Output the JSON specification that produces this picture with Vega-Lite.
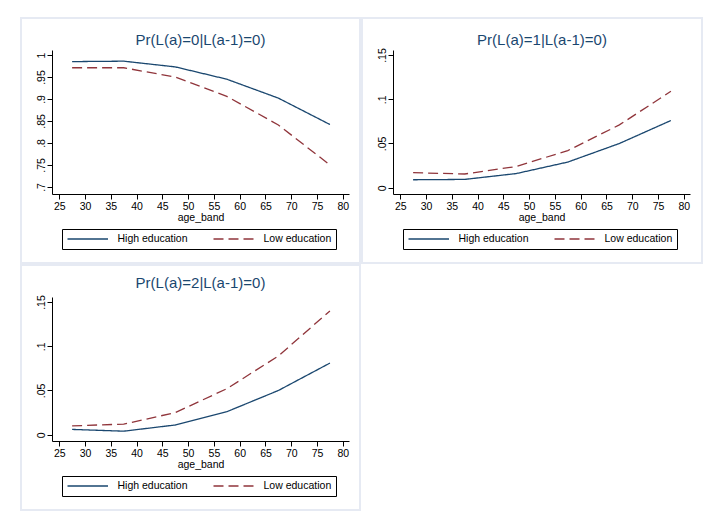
{
  "$schema": "https://vega.github.io/schema/vega-lite/v6.json",
  "background": "white",
  "padding": {"left": 20, "top": 17, "right": 0, "bottom": 0},
  "data": {"values": [
    {"panel": 0, "edu": "High education", "age": 27.5, "p": 0.985},
    {"panel": 0, "edu": "High education", "age": 37.5, "p": 0.986},
    {"panel": 0, "edu": "High education", "age": 47.5, "p": 0.973},
    {"panel": 0, "edu": "High education", "age": 57.5, "p": 0.945},
    {"panel": 0, "edu": "High education", "age": 67.5, "p": 0.902},
    {"panel": 0, "edu": "High education", "age": 77.5, "p": 0.842},
    {"panel": 0, "edu": "Low education", "age": 27.5, "p": 0.971},
    {"panel": 0, "edu": "Low education", "age": 37.5, "p": 0.971},
    {"panel": 0, "edu": "Low education", "age": 47.5, "p": 0.950},
    {"panel": 0, "edu": "Low education", "age": 57.5, "p": 0.906},
    {"panel": 0, "edu": "Low education", "age": 67.5, "p": 0.841},
    {"panel": 0, "edu": "Low education", "age": 77.5, "p": 0.750},
    {"panel": 1, "edu": "High education", "age": 27.5, "p": 0.009},
    {"panel": 1, "edu": "High education", "age": 37.5, "p": 0.0094},
    {"panel": 1, "edu": "High education", "age": 47.5, "p": 0.016},
    {"panel": 1, "edu": "High education", "age": 57.5, "p": 0.029},
    {"panel": 1, "edu": "High education", "age": 67.5, "p": 0.050},
    {"panel": 1, "edu": "High education", "age": 77.5, "p": 0.076},
    {"panel": 1, "edu": "Low education", "age": 27.5, "p": 0.017},
    {"panel": 1, "edu": "Low education", "age": 37.5, "p": 0.0155},
    {"panel": 1, "edu": "Low education", "age": 47.5, "p": 0.024},
    {"panel": 1, "edu": "Low education", "age": 57.5, "p": 0.042},
    {"panel": 1, "edu": "Low education", "age": 67.5, "p": 0.071},
    {"panel": 1, "edu": "Low education", "age": 77.5, "p": 0.109},
    {"panel": 2, "edu": "High education", "age": 27.5, "p": 0.006},
    {"panel": 2, "edu": "High education", "age": 37.5, "p": 0.004},
    {"panel": 2, "edu": "High education", "age": 47.5, "p": 0.011},
    {"panel": 2, "edu": "High education", "age": 57.5, "p": 0.026},
    {"panel": 2, "edu": "High education", "age": 67.5, "p": 0.050},
    {"panel": 2, "edu": "High education", "age": 77.5, "p": 0.081},
    {"panel": 2, "edu": "Low education", "age": 27.5, "p": 0.010},
    {"panel": 2, "edu": "Low education", "age": 37.5, "p": 0.012},
    {"panel": 2, "edu": "Low education", "age": 47.5, "p": 0.025},
    {"panel": 2, "edu": "Low education", "age": 57.5, "p": 0.052},
    {"panel": 2, "edu": "Low education", "age": 67.5, "p": 0.089},
    {"panel": 2, "edu": "Low education", "age": 77.5, "p": 0.140}
  ]},
  "spacing": 0,
  "resolve": {"scale": {"color": "independent", "strokeDash": "independent"}},
  "vconcat": [
    {
      "spacing": 0,
      "resolve": {"scale": {"color": "independent", "strokeDash": "independent"}},
      "hconcat": [
        {
          "width": 339, "height": 245,
          "title": {"text": "Pr(L(a)=0|L(a-1)=0)"},
          "transform": [{"filter": "datum.panel == 0"}],
          "mark": {"type": "line", "strokeWidth": 1.3},
          "encoding": {
            "x": {"field": "age", "type": "quantitative", "scale": {"domain": [23.6, 81.2], "range": [31, 328], "nice": false, "zero": false}, "axis": {"values": [25, 30, 35, 40, 45, 50, 55, 60, 65, 70, 75, 80], "title": "age_band", "offset": -69}},
            "y": {"field": "p", "type": "quantitative", "scale": {"domain": [0.684, 1.0114], "range": [176, 32], "nice": false, "zero": false}, "axis": {"values": [0.7, 0.75, 0.8, 0.85, 0.9, 0.95, 1], "title": null, "offset": -31}},
            "color": {"field": "edu", "type": "nominal", "scale": {"domain": ["High education", "Low education"], "range": ["#1a476f", "#90353b"]}, "legend": {"title": null}},
            "strokeDash": {"field": "edu", "type": "nominal", "scale": {"domain": ["High education", "Low education"], "range": [[1, 0], [10, 5]]}, "legend": {"title": null}}
          }
        },
        {
          "width": 340, "height": 245,
          "title": {"text": "Pr(L(a)=1|L(a-1)=0)"},
          "transform": [{"filter": "datum.panel == 1"}],
          "mark": {"type": "line", "strokeWidth": 1.3},
          "encoding": {
            "x": {"field": "age", "type": "quantitative", "scale": {"domain": [23.6, 81.2], "range": [31, 328], "nice": false, "zero": false}, "axis": {"values": [25, 30, 35, 40, 45, 50, 55, 60, 65, 70, 75, 80], "title": "age_band", "offset": -69}},
            "y": {"field": "p", "type": "quantitative", "scale": {"domain": [-0.0071, 0.1557], "range": [176, 32], "nice": false, "zero": false}, "axis": {"values": [0, 0.05, 0.1, 0.15], "title": null, "offset": -31}},
            "color": {"field": "edu", "type": "nominal", "scale": {"domain": ["High education", "Low education"], "range": ["#1a476f", "#90353b"]}, "legend": {"title": null}},
            "strokeDash": {"field": "edu", "type": "nominal", "scale": {"domain": ["High education", "Low education"], "range": [[1, 0], [10, 5]]}, "legend": {"title": null}}
          }
        }
      ]
    },
    {
      "width": 339, "height": 245,
      "title": {"text": "Pr(L(a)=2|L(a-1)=0)", "offset": -26},
      "transform": [{"filter": "datum.panel == 2"}],
      "mark": {"type": "line", "strokeWidth": 1.3},
      "encoding": {
        "x": {"field": "age", "type": "quantitative", "scale": {"domain": [23.6, 81.2], "range": [31, 328], "nice": false, "zero": false}, "axis": {"values": [25, 30, 35, 40, 45, 50, 55, 60, 65, 70, 75, 80], "title": "age_band", "offset": -69}},
        "y": {"field": "p", "type": "quantitative", "scale": {"domain": [-0.0071, 0.1557], "range": [176, 32], "nice": false, "zero": false}, "axis": {"values": [0, 0.05, 0.1, 0.15], "title": null, "offset": -31}},
        "color": {"field": "edu", "type": "nominal", "scale": {"domain": ["High education", "Low education"], "range": ["#1a476f", "#90353b"]}, "legend": {"title": null}},
        "strokeDash": {"field": "edu", "type": "nominal", "scale": {"domain": ["High education", "Low education"], "range": [[1, 0], [10, 5]]}, "legend": {"title": null}}
      }
    }
  ],
  "config": {
    "font": "Liberation Sans",
    "view": {"stroke": "#e6eaf3", "strokeWidth": 2},
    "title": {"fontSize": 15, "fontWeight": "normal", "color": "#1a476f", "anchor": "middle", "frame": "group", "offset": -30, "baseline": "alphabetic", "dx": 10},
    "axis": {"grid": false, "domainColor": "#000000", "tickColor": "#000000", "labelColor": "#000000", "titleColor": "#000000", "labelFontSize": 10.5, "titleFontSize": 10.5, "titleFontWeight": "normal", "tickSize": 5, "domainWidth": 1, "tickWidth": 1},
    "axisX": {"labelPadding": 2, "titlePadding": 1},
    "axisY": {"labelAngle": -90, "labelAlign": "center", "labelBaseline": "alphabetic", "labelPadding": 3, "labelExpr": "datum.value == 0 ? '0' : (datum.value < 1 ? substring(format(datum.value, '.2~f'), 1) : format(datum.value, '~g'))"},
    "legend": {"orient": "none", "legendX": 41, "legendY": 211, "direction": "horizontal", "columns": 2, "strokeColor": "#000000", "fillColor": "#ffffff", "padding": 4.5, "symbolType": "M-1,0H8", "symbolSize": 81, "symbolStrokeWidth": 1.3, "labelFontSize": 10.5, "labelColor": "#000000", "labelOffset": 40, "columnPadding": 22}
  }
}
